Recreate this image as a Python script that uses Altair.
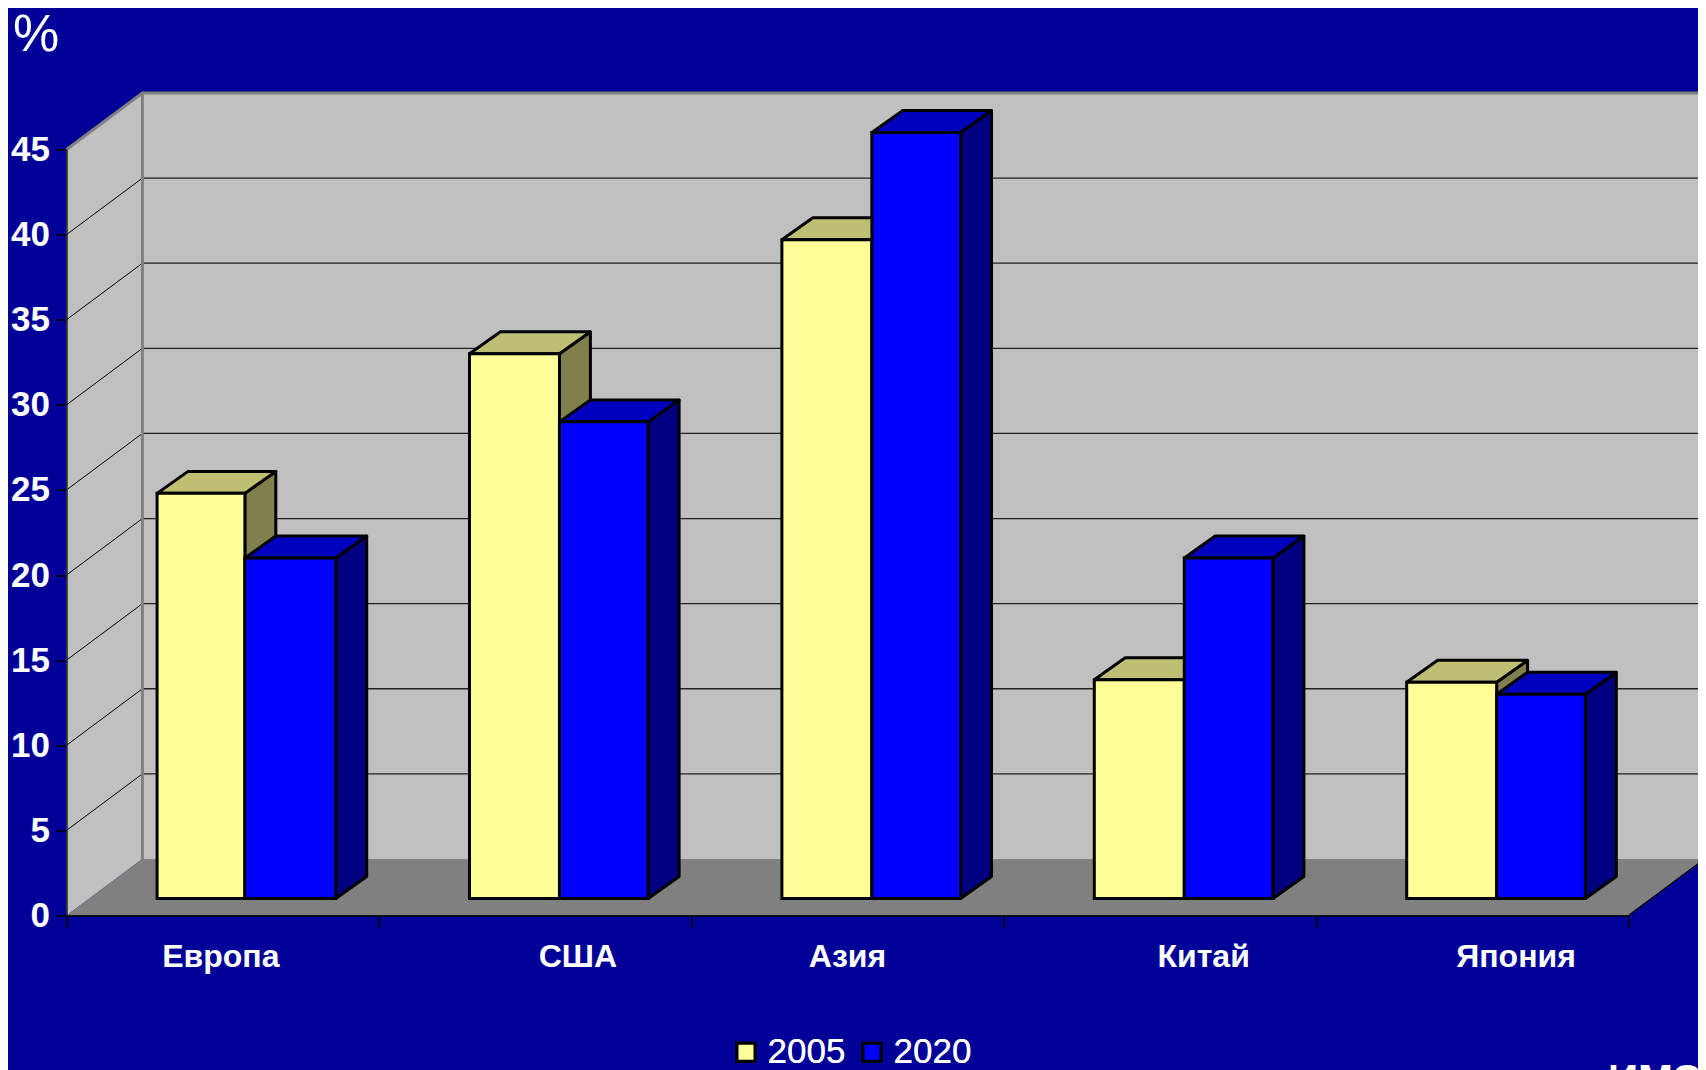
import altair as alt
import pandas as pd

# ---- values ----
regions = ["Европа", "США", "Азия", "Китай", "Япония"]
values_2005 = [23.8, 32.0, 38.7, 12.85, 12.7]
values_2020 = [20.0, 28.0, 45.0, 20.0, 12.0]
y_ticks = [0, 5, 10, 15, 20, 25, 30, 35, 40, 45]
years = ["2005", "2020"]
label_offsets = [0.494, 0.637, 0.50, 0.64, 0.64]
bar_splits = [0.571, 0.578, 0.578, 0.578, 0.578]

BG = "#000099"
front = {"2005": "#FFFF99", "2020": "#0000FF"}
top_c = {"2005": "#BFBF73", "2020": "#0000BF"}
side_c = {"2005": "#80804D", "2020": "#000080"}

# 3-D geometry in data units (x: one category = 1, y: percent)
WALL_DX, WALL_DY = 0.243, 3.32
BAR_DX, BAR_DY = 0.099, 1.29
BASE = 1.0
BAR_LEFT, BAR_RIGHT = 0.29, 0.862
X_END = 5.0

rows_front, rows_side, rows_top = [], [], []
for yr, vals in zip(years, [values_2005, values_2020]):
    for i, v in enumerate(vals):
        if yr == "2005":
            l, r = i + BAR_LEFT, i + bar_splits[i]
        else:
            l, r = i + bar_splits[i], i + BAR_RIGHT
        t = BASE + v
        key = f"{yr}-{i}"
        rows_front.append(dict(year=yr, l=l, r=r, b=BASE, t=t))
        rows_side += [
            dict(key=key, year=yr, c=side_c[yr], x=r, y0=BASE, y1=t),
            dict(key=key, year=yr, c=side_c[yr], x=r + BAR_DX, y0=BASE + BAR_DY, y1=t + BAR_DY),
        ]
        rows_top += [
            dict(key=key, year=yr, c=top_c[yr], y=t, x0=l, x1=r),
            dict(key=key, year=yr, c=top_c[yr], y=t + BAR_DY, x0=l + BAR_DX, x1=r + BAR_DX),
        ]
df_front = pd.DataFrame(rows_front)
df_side = pd.DataFrame(rows_side)
df_top = pd.DataFrame(rows_top)

X = alt.X("x:Q", scale=alt.Scale(domain=[0, X_END], nice=False, zero=False),
          axis=alt.Axis(values=list(range(6)), labels=False, title=None, grid=False,
                        tickSize=12, tickColor="black", tickWidth=1.5,
                        domainColor="black", domainWidth=1.5, zindex=1))
Y = alt.Y("y:Q", scale=alt.Scale(domain=[0, 45], nice=False, zero=False),
          axis=alt.Axis(values=y_ticks, title=None, grid=False, tickSize=11,
                        tickColor="black", tickWidth=1.5, domainColor="#222222",
                        domainWidth=1.5, labelColor="white", labelFont="Liberation Sans",
                        labelFontWeight="bold", labelFontSize=35, labelPadding=6, zindex=1))

# walls and floor
wall_left = alt.Chart(pd.DataFrame(dict(
    x=[0, WALL_DX], y=[0, WALL_DY], y2=[45, 45 + WALL_DY]))).mark_area(color="#C0C0C0").encode(
    x=X, y=Y, y2="y2:Q")
wall_back = alt.Chart(pd.DataFrame(dict(
    x=[WALL_DX], x2=[X_END + WALL_DX], y=[WALL_DY], y2=[45 + WALL_DY]))).mark_rect(color="#C0C0C0").encode(
    x="x:Q", x2="x2:Q", y="y:Q", y2="y2:Q")
floor = alt.Chart(pd.DataFrame(dict(
    y=[0, WALL_DY], x=[0, WALL_DX], x2=[X_END, X_END + WALL_DX]))).mark_area(
    color="#808080", orient="horizontal").encode(x="x:Q", x2="x2:Q", y="y:Q")

# gridlines
levels = [v for v in y_ticks if v > 0]
grid_back = alt.Chart(pd.DataFrame(dict(
    x=[WALL_DX] * (len(levels) - 1), x2=[X_END + WALL_DX] * (len(levels) - 1),
    y=[v + WALL_DY for v in levels[:-1]]))).mark_rule(color="#222222", strokeWidth=1.3).encode(
    x="x:Q", x2="x2:Q", y="y:Q")
diag_rows = []
for v in levels[:-1]:
    diag_rows += [dict(k=v, x=0, y=v), dict(k=v, x=WALL_DX, y=v + WALL_DY)]
grid_left = alt.Chart(pd.DataFrame(diag_rows)).mark_line(color="black", strokeWidth=1).encode(
    x="x:Q", y="y:Q", detail="k:N")

# wall borders
edge = alt.Chart(pd.DataFrame(dict(
    x=[WALL_DX, WALL_DX, 0, WALL_DX, X_END + WALL_DX],
    y=[WALL_DY, 45 + WALL_DY, 45, 45 + WALL_DY, 45 + WALL_DY],
    k=[0, 0, 1, 1, 1]))).mark_line(color="#808080", strokeWidth=3).encode(
    x="x:Q", y="y:Q", detail="k:N", order=alt.Order("o:Q")).transform_window(o="row_number()", groupby=["k"])
corner = alt.Chart(pd.DataFrame(dict(
    x=[X_END, X_END + WALL_DX], y=[0, WALL_DY]))).mark_line(color="black", strokeWidth=1.3).encode(
    x="x:Q", y="y:Q")


def bars(yr):
    s = df_side[df_side.year == yr]
    tp = df_top[df_top.year == yr]
    f = df_front[df_front.year == yr]
    side = alt.Chart(s).mark_area(stroke="black", strokeWidth=3, strokeJoin="round").encode(
        x="x:Q", y=alt.Y("y0:Q"), y2="y1:Q", detail="key:N",
        color=alt.Color("c:N", scale=None))
    top = alt.Chart(tp).mark_area(orient="horizontal", stroke="black", strokeWidth=3, strokeJoin="round").encode(
        y="y:Q", x=alt.X("x0:Q"), x2="x1:Q", detail="key:N",
        color=alt.Color("c:N", scale=None))
    fr = alt.Chart(f).mark_rect(stroke="black", strokeWidth=3).encode(
        x="l:Q", x2="r:Q", y="b:Q", y2="t:Q",
        color=alt.Color("year:N",
                        scale=alt.Scale(domain=years, range=[front[y] for y in years]),
                        legend=alt.Legend(orient="none", legendX=662, legendY=885, title=None,
                                          direction="horizontal", columns=2, columnPadding=9,
                                          symbolType="square", symbolSize=324,
                                          symbolStrokeColor="black", symbolStrokeWidth=3,
                                          symbolOpacity=1, labelColor="white",
                                          labelFont="Liberation Sans", labelFontSize=35,
                                          labelOffset=4, labelLimit=200, padding=0)))
    return side + top + fr


# texts
labels = alt.Chart(pd.DataFrame(dict(
    x=[i + o for i, o in enumerate(label_offsets)], y=[-3.0] * 5, t=regions))).mark_text(
    color="white", font="Liberation Sans", fontWeight="bold", fontSize=32,
    align="center", baseline="alphabetic").encode(x="x:Q", y="y:Q", text="t:N")
percent = alt.Chart(pd.DataFrame(dict(x=[-0.171], y=[50.78], t=["%"]))).mark_text(
    color="white", font="Liberation Sans", fontSize=52, align="left",
    baseline="alphabetic").encode(x="x:Q", y="y:Q", text="t:N")
source = alt.Chart(pd.DataFrame(dict(x=[4.934], y=[-10.5], t=["ИМЭ"]))).mark_text(
    color="white", font="Liberation Sans", fontWeight="bold", fontSize=42, align="left",
    baseline="alphabetic").encode(x="x:Q", y="y:Q", text="t:N")

base_axes = alt.Chart(pd.DataFrame(dict(x=[0, X_END], y=[0, 45]))).mark_point(opacity=0).encode(x=X, y=Y)

chart = alt.layer(
    base_axes, wall_left, wall_back, floor, grid_back, grid_left, edge, corner,
    bars("2005"), bars("2020"), labels, percent, source,
).resolve_scale(color="independent").properties(
    width=1562, height=766,
    background=BG,
    autosize=alt.AutoSizeParams(type="none"),
    padding={"left": 58.5, "top": 141.5, "right": 69.5, "bottom": 154.5},
).configure_view(stroke=None)

chart.save("out.html", embed_options={"renderer": "svg", "actions": False})
